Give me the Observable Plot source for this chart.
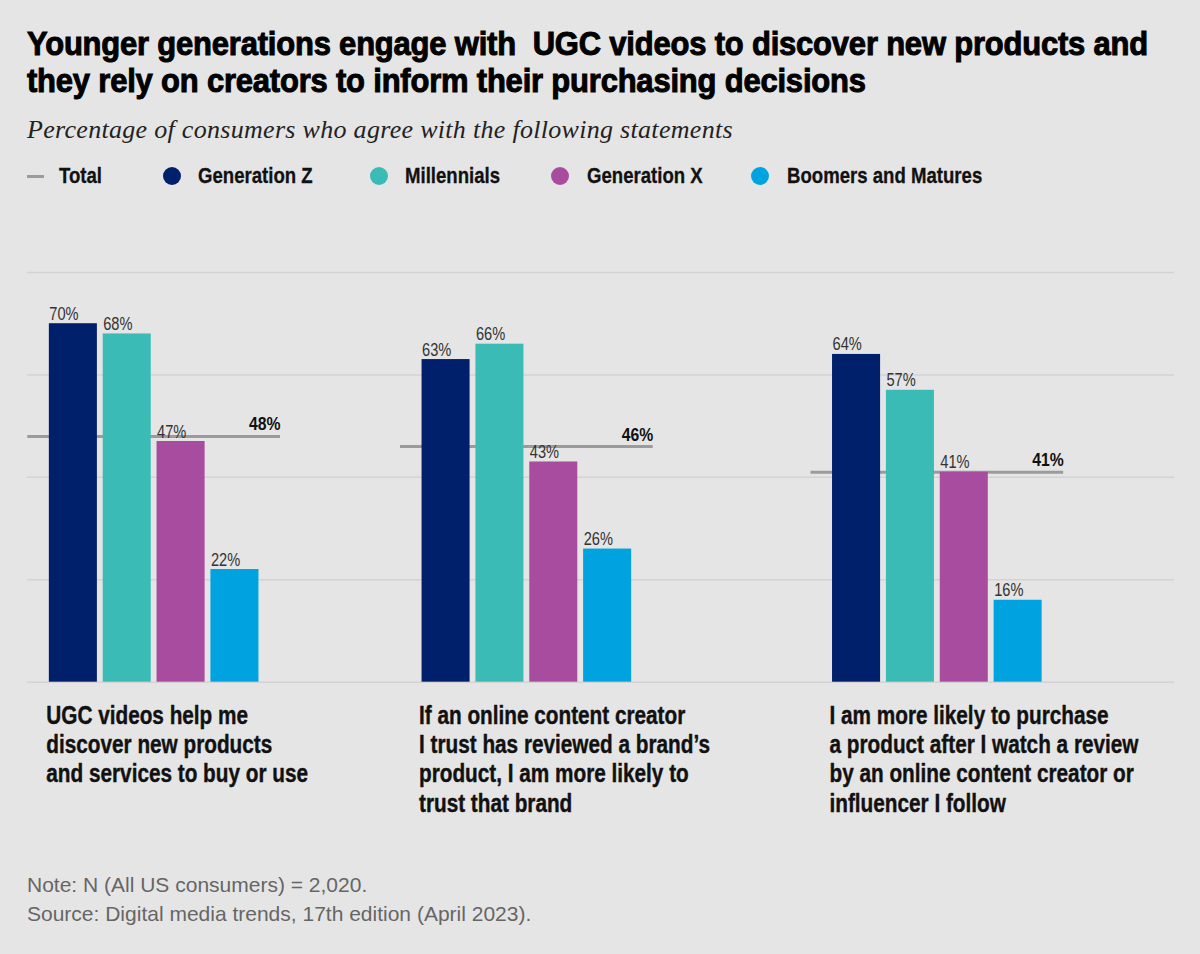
<!DOCTYPE html>
<html>
<head>
<meta charset="utf-8">
<script src="https://cdn.jsdelivr.net/npm/d3@7"></script>
<script src="https://cdn.jsdelivr.net/npm/@observablehq/plot@0.6"></script>
<style>
  html, body { margin: 0; padding: 0; background: #e5e5e5; }
  #root { position: relative; width: 1200px; height: 954px; background: #e5e5e5; overflow: hidden; }
  .abs { position: absolute; }
  #title { left: 27px; top: 25px; font-family: "Liberation Sans", Arial, sans-serif; font-weight: 700; font-size: 34px; line-height: 37px; color: #000; -webkit-text-stroke: 1px #000; letter-spacing: -0.2px; white-space: nowrap; transform: scaleX(0.91); transform-origin: left top; }
  #subtitle { left: 27px; top: 115px; font-family: "Liberation Serif", "DejaVu Serif", serif; font-style: italic; font-size: 26px; color: #222; white-space: nowrap; letter-spacing: 0.3px; }
  .leg { top: 162px; font-family: "Liberation Sans", Arial, sans-serif; font-weight: 700; font-size: 22px; line-height: 28px; color: #111; white-space: nowrap; -webkit-text-stroke: 0.3px #111; transform: scaleX(0.845); transform-origin: left top; }
  .sw { position: absolute; }
  #note { left: 27px; top: 870px; font-family: "Liberation Sans", Arial, sans-serif; font-size: 21px; line-height: 29px; color: #666; white-space: nowrap; }
  .plot { position: absolute; left: 0; top: 0; }
</style>
</head>
<body>
<div id="root">
  <div id="title" class="abs"></div>
  <div id="subtitle" class="abs"></div>
  <div id="legend"></div>
  <div id="plots"></div>
  <div id="note" class="abs"></div>
</div>
<script>
// ---- Data ----
const titleLines = [
  "Younger generations engage with  UGC videos to discover new products and",
  "they rely on creators to inform their purchasing decisions"
];
const subtitle = "Percentage of consumers who agree with the following statements";
const generations = ["Generation Z", "Millennials", "Generation X", "Boomers and Matures"];
const genColors = ["#00206b", "#3bbbb5", "#a84c9f", "#00a3e0"];
const totalLabel = "Total";
const totalColor = "#9b9b9b";
const statements = [
  "UGC videos help me\ndiscover new products\nand services to buy or use",
  "If an online content creator\nI trust has reviewed a brand’s\nproduct, I am more likely to\ntrust that brand",
  "I am more likely to purchase\na product after I watch a review\nby an online content creator or\ninfluencer I follow"
];
const genZ        = [70, 63, 64];
const millennials = [68, 66, 57];
const genX        = [47, 43, 41];
const boomers     = [22, 26, 16];
const totals      = [48, 46, 41];
const yTicks = [0, 20, 40, 60, 80];
const notes = [
  "Note: N (All US consumers) = 2,020.",
  "Source: Digital media trends, 17th edition (April 2023)."
];

// ---- Layout constants ----
const W = 1200, H = 954;
const mTop = 272, mBottom = 954 - 681.7;
const groupLeft = [27.3, 400, 810.5];
const groupWidth = 252.7;
const font = "'Liberation Sans', Arial, sans-serif";

// ---- Header ----
document.getElementById("title").innerHTML = titleLines.map(t => `<div style="white-space:pre">${t}</div>`).join("");
document.getElementById("subtitle").textContent = subtitle;

// Legend
const legend = document.getElementById("legend");
const legItems = [
  {label: totalLabel, color: totalColor, type: "line", sx: 27, tx: 59},
  {label: generations[0], color: genColors[0], type: "dot", sx: 163, tx: 198},
  {label: generations[1], color: genColors[1], type: "dot", sx: 370, tx: 405},
  {label: generations[2], color: genColors[2], type: "dot", sx: 551, tx: 587},
  {label: generations[3], color: genColors[3], type: "dot", sx: 751, tx: 787}
];
legItems.forEach(it => {
  const sw = document.createElement("div");
  sw.className = "sw";
  if (it.type === "line") {
    Object.assign(sw.style, {left: it.sx + "px", top: "174.5px", width: "17px", height: "3px", background: it.color});
  } else {
    Object.assign(sw.style, {left: it.sx + "px", top: "167px", width: "18px", height: "18px", borderRadius: "50%", background: it.color});
  }
  legend.appendChild(sw);
  const tx = document.createElement("div");
  tx.className = "abs leg";
  tx.style.left = it.tx + "px";
  tx.textContent = it.label;
  legend.appendChild(tx);
});

// condense SVG text horizontally (no narrow font installed)
function condense(svg, scales) {
  const groups = svg.querySelectorAll('g[aria-label="text"]');
  groups.forEach((g, gi) => {
    const s = scales[gi];
    if (!s) return;
    g.querySelectorAll("text").forEach(t => {
      const x = +(t.getAttribute("x") || 0), y = +(t.getAttribute("y") || 0);
      t.removeAttribute("x"); t.removeAttribute("y");
      const tr = t.getAttribute("transform") || "";
      t.setAttribute("transform", `${tr} translate(${x},${y}) scale(${s},1)`);
    });
  });
}

// ---- Plots ----
const plots = document.getElementById("plots");
const yOpts = {domain: [0, 80], axis: null};

// background gridlines (full width)
const grid = Plot.plot({
  width: W, height: H,
  marginLeft: 27, marginRight: 26, marginTop: mTop, marginBottom: mBottom,
  x: {axis: null},
  y: yOpts,
  style: {background: "transparent", overflow: "visible"},
  marks: [
    Plot.ruleY(yTicks, {stroke: "#d3d3d3", strokeWidth: 1.5})
  ]
});
grid.classList.add("plot");
plots.appendChild(grid);

const seriesValues = [genZ, millennials, genX, boomers];
statements.forEach((stmt, i) => {
  const data = generations.map((g, j) => ({gen: g, value: seriesValues[j][i]}));
  const total = totals[i];
  const p = Plot.plot({
    width: W, height: H,
    marginLeft: groupLeft[i],
    marginRight: W - groupLeft[i] - groupWidth,
    marginTop: mTop, marginBottom: mBottom,
    x: {domain: generations, paddingInner: 0.108, paddingOuter: 0.4, round: false, axis: null},
    y: yOpts,
    color: {domain: generations, range: genColors},
    style: {background: "transparent", overflow: "visible"},
    marks: [
      Plot.ruleY([total], {stroke: totalColor, strokeWidth: 3}),
      Plot.barY(data, {x: "gen", y: "value", fill: "gen"}),
      Plot.text(data, {
        x: "gen", y: "value", text: d => d.value + "%",
        textAnchor: "start", lineAnchor: "bottom", dx: -24, dy: -4,
        fontFamily: font, fontSize: 19, fill: "#333"
      }),
      Plot.text([total], {
        y: d => d, text: d => d + "%", frameAnchor: "right",
        textAnchor: "end", lineAnchor: "bottom", dy: -6,
        fontFamily: font, fontSize: 19, fontWeight: 700, fill: "#111"
      }),
      Plot.text([stmt], {
        text: d => d, frameAnchor: "bottom-left", textAnchor: "start",
        lineAnchor: "top", dx: 18.5, dy: 21, lineHeight: 1.17,
        fontFamily: font, fontSize: 25, fontWeight: 700, fill: "#111",
        stroke: "#111", strokeWidth: 0.4
      })
    ]
  });
  condense(p, [0.77, 0.83, 0.83]);
  p.classList.add("plot");
  plots.appendChild(p);
});

document.getElementById("note").innerHTML = notes.map(n => `<div>${n}</div>`).join("");
</script>
</body>
</html>
